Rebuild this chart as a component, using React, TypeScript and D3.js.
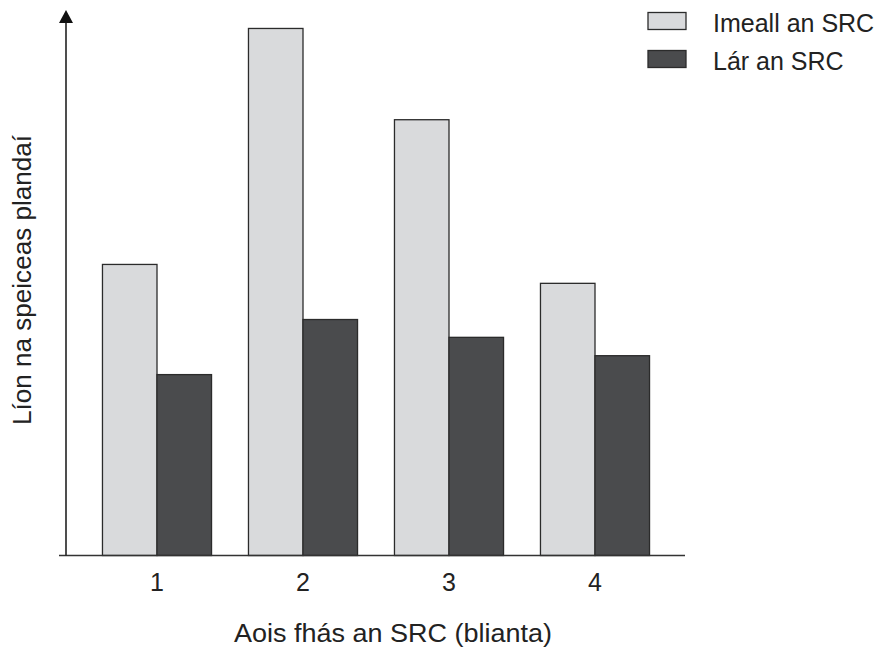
import React from "react";
import * as d3 from "d3";

const categories = ["1", "2", "3", "4"];
const seriesNames = ["Imeall an SRC", "Lár an SRC"];
const edgeValues = [53.9, 97.6, 80.7, 50.4];
const centreValues = [33.5, 43.7, 40.4, 37.0];
const xTitle = "Aois fhás an SRC (blianta)";
const yTitle = "Líon na speiceas plandaí";

const colors = ["#d9dadc", "#4a4b4d"];
const stroke = "#2b2b2b";
const font = "'Liberation Sans', Arial, Helvetica, sans-serif";

export default function App() {
  const W = 880, H = 648;
  const axisX = 66, baseY = 555.5;
  const x0 = d3.scaleBand<string>().domain(categories).range([84, 668]).paddingInner(0.253).paddingOuter(0.1265);
  const x1 = d3.scaleBand<string>().domain(seriesNames).range([0, x0.bandwidth()]).padding(0);
  const y = d3.scaleLinear().domain([0, 100]).range([baseY, 15.5]);
  const series = [edgeValues, centreValues];

  return (
    <svg width={W} height={H} style={{ position: "absolute", left: 0, top: 0, background: "#fff" }} fontFamily={font}>
      {categories.map((c, i) => (
        <g key={c} transform={`translate(${x0(c)},0)`}>
          {seriesNames.map((s, j) => (
            <rect key={s} x={x1(s)} y={y(series[j][i])} width={x1.bandwidth()} height={baseY - y(series[j][i])}
              fill={colors[j]} stroke={stroke} strokeWidth={1.3} />
          ))}
        </g>
      ))}
      {/* axes */}
      <line x1={59} x2={685} y1={baseY} y2={baseY} stroke="#333" strokeWidth={1.6} />
      <line x1={axisX} x2={axisX} y1={baseY} y2={20} stroke="#222" strokeWidth={1.6} />
      <path d={`M${axisX},10 L${axisX - 7},23 L${axisX + 7},23 Z`} fill="#111" />
      {categories.map((c) => (
        <text key={c} x={(x0(c) as number) + x0.bandwidth() / 2} y={591} textAnchor="middle" fontSize={25} fill="#222">{c}</text>
      ))}
      <text x={393} y={642} textAnchor="middle" fontSize={26} fill="#222" textLength={318} lengthAdjust="spacingAndGlyphs">{xTitle}</text>
      <text transform={`translate(31,280) rotate(-90)`} textAnchor="middle" fontSize={25} fill="#222" textLength={290} lengthAdjust="spacingAndGlyphs">{yTitle}</text>
      {/* legend */}
      {seriesNames.map((s, j) => (
        <g key={s} transform={`translate(0,${j * 38})`}>
          <rect x={648} y={12.5} width={38} height={17} fill={colors[j]} stroke={stroke} strokeWidth={1.3} />
          <text x={713} y={32} fontSize={25} fill="#222">{s}</text>
        </g>
      ))}
    </svg>
  );
}
